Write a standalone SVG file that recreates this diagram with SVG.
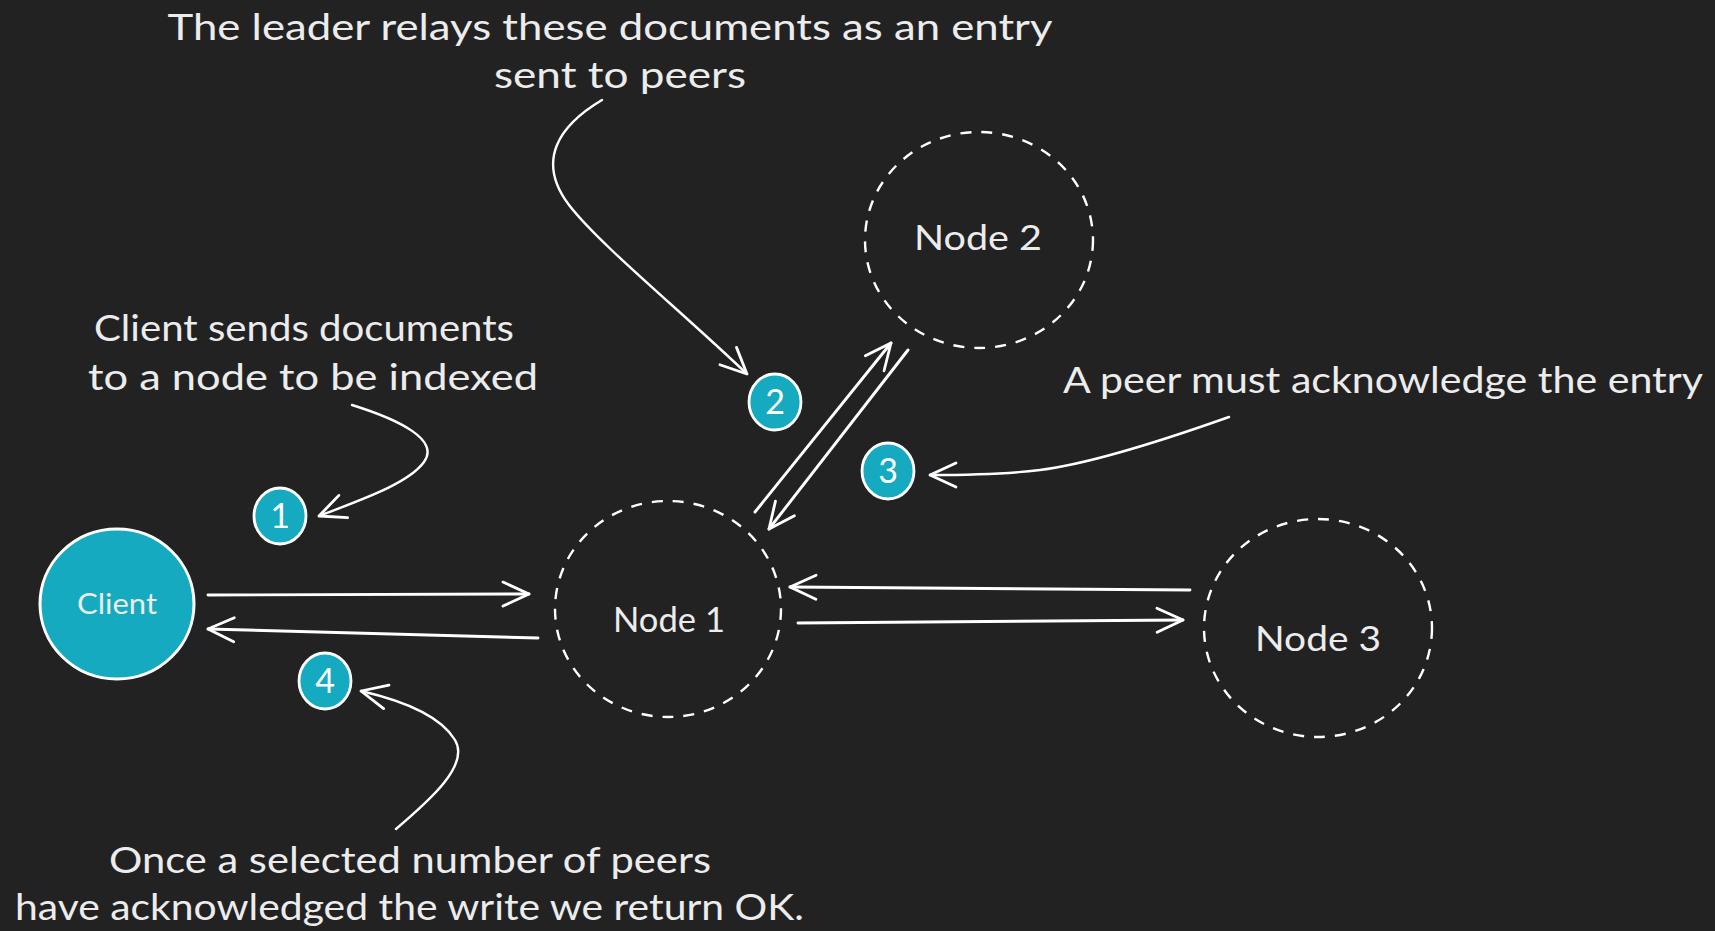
<svg xmlns="http://www.w3.org/2000/svg" width="1715" height="931" viewBox="0 0 1715 931">
<defs>
<marker id="ah" markerUnits="userSpaceOnUse" markerWidth="40" markerHeight="40" viewBox="-30 -20 40 40" refX="0" refY="0" orient="auto">
<path d="M -26 -12 L 0 0 L -26 12" fill="none" stroke="#ffffff" stroke-width="2.8" stroke-linecap="round" stroke-linejoin="round"/>
</marker>
<style>
.t{font-family:Lato,"Open Sans","Noto Sans",sans-serif;fill:#ececec;font-weight:400;}
.big{font-size:36px;}
.node{fill:none;stroke:#ffffff;stroke-width:2.4;stroke-dasharray:11 10;}
.badge{fill:#15aabf;stroke:#ffffff;stroke-width:2.8;}
.num{font-family:Lato,"Open Sans",sans-serif;font-size:34px;fill:#ffffff;text-anchor:middle;}
.ln{fill:none;stroke:#ffffff;stroke-width:2.9;stroke-linecap:round;marker-end:url(#ah);}
.ann{fill:none;stroke:#ffffff;stroke-width:2.4;stroke-linecap:round;marker-end:url(#ah);}
</style>
</defs>
<rect width="1715" height="931" fill="#222222"/>

<g id="client">
<ellipse cx="117" cy="604" rx="77" ry="75" fill="#15aabf" stroke="#ffffff" stroke-width="3"/>
<text class="t" x="117" y="614" font-size="28" text-anchor="middle" textLength="80" lengthAdjust="spacingAndGlyphs">Client</text>
</g>

<g id="node1">
<ellipse class="node" cx="668" cy="609" rx="113" ry="108"/>
<text class="t" x="669" y="632" font-size="34" text-anchor="middle" textLength="112" lengthAdjust="spacingAndGlyphs">Node 1</text>
</g>

<g id="node2">
<ellipse class="node" cx="979" cy="240" rx="114" ry="108"/>
<text class="t" x="978" y="250" font-size="34" text-anchor="middle" textLength="128" lengthAdjust="spacingAndGlyphs">Node 2</text>
</g>

<g id="node3">
<ellipse class="node" cx="1318" cy="628" rx="114" ry="109"/>
<text class="t" x="1318" y="651" font-size="34" text-anchor="middle" textLength="126" lengthAdjust="spacingAndGlyphs">Node 3</text>
</g>

<g id="badge1">
<ellipse class="badge" cx="280" cy="516" rx="26" ry="28"/>
<text class="num" x="280" y="528">1</text>
</g>
<g id="badge2">
<ellipse class="badge" cx="775" cy="402" rx="26" ry="28"/>
<text class="num" x="775" y="414">2</text>
</g>
<g id="badge3">
<ellipse class="badge" cx="888" cy="471" rx="26" ry="28"/>
<text class="num" x="888" y="483">3</text>
</g>
<g id="badge4">
<ellipse class="badge" cx="325" cy="681" rx="26" ry="28"/>
<text class="num" x="325" y="693">4</text>
</g>

<g id="labels">
<text class="t big" x="610" y="40" text-anchor="middle" textLength="885" lengthAdjust="spacingAndGlyphs">The leader relays these documents as an entry</text>
<text class="t big" x="620" y="88" text-anchor="middle" textLength="252" lengthAdjust="spacingAndGlyphs">sent to peers</text>
<text class="t big" x="94" y="341" textLength="420" lengthAdjust="spacingAndGlyphs">Client sends documents</text>
<text class="t big" x="88" y="390" textLength="450" lengthAdjust="spacingAndGlyphs">to a node to be indexed</text>
<text class="t big" x="1063" y="393" textLength="640" lengthAdjust="spacingAndGlyphs">A peer must acknowledge the entry</text>
<text class="t big" x="109" y="873" textLength="602" lengthAdjust="spacingAndGlyphs">Once a selected number of peers</text>
<text class="t big" x="15" y="920" textLength="789" lengthAdjust="spacingAndGlyphs">have acknowledged the write we return OK.</text>
</g>

<g id="connectors">
<path class="ln" d="M 208 595 L 529 594"/>
<path class="ln" d="M 538 638 L 208 629"/>
<path class="ln" d="M 755 512 L 891 343"/>
<path class="ln" d="M 908 350 L 769 529"/>
<path class="ln" d="M 1190 590 L 790 587"/>
<path class="ln" d="M 798 623 L 1183 620"/>
<path class="ann" d="M 602 100 C 560 125, 535 160, 569 205 C 600 245, 680 310, 747 374"/>
<path class="ann" d="M 352 405 C 400 420, 440 440, 424 462 C 408 484, 360 500, 319 516"/>
<path class="ann" d="M 1229 417 C 1150 445, 1080 465, 1040 470 C 1000 475, 960 475, 930 475"/>
<path class="ann" d="M 396 829 C 430 800, 470 765, 455 740 C 440 715, 400 700, 361 691"/>
</g>
</svg>
